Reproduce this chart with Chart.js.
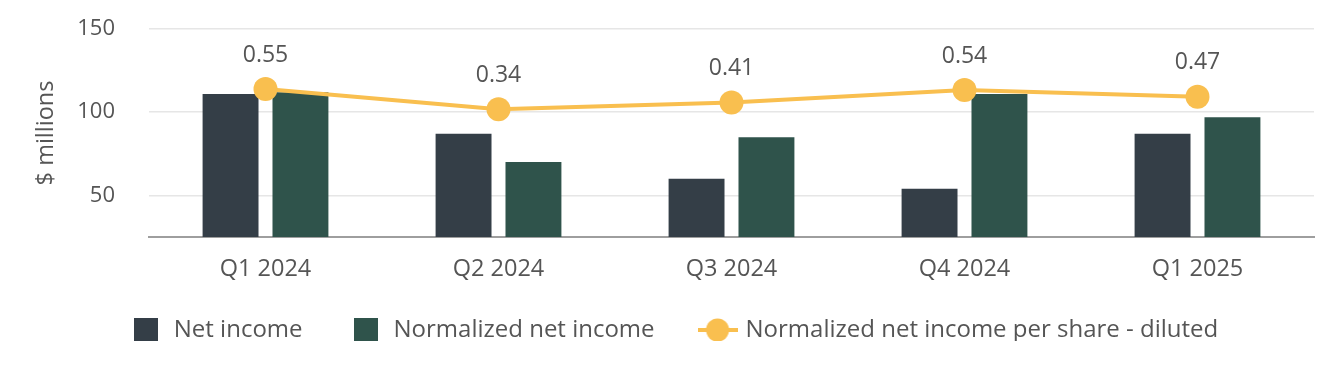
<!DOCTYPE html>
<html>
<head>
<meta charset="utf-8">
<script src="https://cdn.jsdelivr.net/npm/chart.js@4.4.1/dist/chart.umd.min.js"></script>
<style>
html, body { margin: 0; padding: 0; background: #fff; }
</style>
</head>
<body>
<canvas id="mycanvas" width="1344" height="384"></canvas>
<script>
var quarters = ['Q1 2024', 'Q2 2024', 'Q3 2024', 'Q4 2024', 'Q1 2025'];
var netIncome = [111, 87, 60, 54, 87];
var normalizedIncome = [112, 70, 85, 111, 97];
var normalizedEps = [0.55, 0.34, 0.41, 0.54, 0.47];
var yTicks = [50, 100, 150];

var darkColor = '#343e47';
var greenColor = '#2f534b';
var goldColor = '#f9bf4f';
var textColor = '#555555';

Chart.defaults.font.family = '"Open Sans", "Noto Sans", sans-serif';
Chart.defaults.color = textColor;

// legend symbols
function boxImg(color) {
	var c = document.createElement('canvas');
	c.width = 24; c.height = 24;
	var g = c.getContext('2d');
	g.fillStyle = color;
	g.fillRect(0, 0, 24, 24);
	return c;
}
function lineImg(color) {
	var c = document.createElement('canvas');
	c.width = 40; c.height = 24;
	var g = c.getContext('2d');
	g.strokeStyle = color;
	g.lineWidth = 4;
	g.beginPath(); g.moveTo(0, 12); g.lineTo(40, 12); g.stroke();
	g.fillStyle = color;
	g.beginPath(); g.arc(20, 12, 11.5, 0, Math.PI * 2); g.fill();
	return c;
}
var legendIcons = [boxImg(darkColor), boxImg(greenColor), lineImg(goldColor)];

// value labels above the eps points
var epsLabels = {
	id: 'epsLabels',
	afterDatasetsDraw: function(chart) {
		var meta = chart.getDatasetMeta(2);
		var ctx = chart.ctx;
		ctx.save();
		ctx.font = '23px "Open Sans"';
		ctx.fillStyle = textColor;
		ctx.textAlign = 'center';
		ctx.textBaseline = 'middle';
		meta.data.forEach(function(pt, i) {
			ctx.fillText(normalizedEps[i].toFixed(2), pt.x, pt.y - 34);
		});
		ctx.restore();
	}
};

// x labels hang below the (short) x axis box, so widen its clip area
var xLabelRoom = {
	id: 'xLabelRoom',
	afterLayout: function(chart) {
		chart.scales.x.bottom = chart.scales.x.top + 60;
	}
};

var chartdata = {
	labels: quarters,
	datasets: [
		{
			label: 'Net income',
			type: 'bar',
			backgroundColor: darkColor,
			data: netIncome,
			yAxisID: 'y',
			order: 2
		},
		{
			label: 'Normalized net income',
			type: 'bar',
			backgroundColor: greenColor,
			data: normalizedIncome,
			yAxisID: 'y',
			order: 2
		},
		{
			label: 'Normalized net income per share - diluted',
			type: 'line',
			borderColor: goldColor,
			backgroundColor: goldColor,
			borderWidth: 4,
			pointRadius: 12,
			pointHoverRadius: 12,
			pointBorderWidth: 0,
			pointBackgroundColor: goldColor,
			tension: 0,
			data: normalizedEps,
			yAxisID: 'y1',
			order: 1
		}
	]
};

var ctx = document.getElementById('mycanvas');
var combo = new Chart(ctx, {
	type: 'bar',
	data: chartdata,
	plugins: [epsLabels, xLabelRoom],
	options: {
		responsive: false,
		animation: false,
		datasets: {
			bar: { categoryPercentage: 0.6, barPercentage: 0.8 }
		},
		layout: { padding: { top: 29, right: 30, bottom: 43, left: 34 } },
		scales: {
			x: {
				grid: { display: false, drawTicks: false },
				border: { color: '#9e9e9e', width: 2 },
				ticks: { padding: 18, font: { size: 23.5 }, color: textColor },
				afterFit: function(scale) { scale.height = 34; }
			},
			y: {
				min: 25,
				max: 150,
				grid: { color: '#e6e6e6', lineWidth: 1.5, drawTicks: true, tickLength: 30, tickColor: 'rgba(0,0,0,0)' },
				border: { display: false },
				ticks: { padding: 4, font: { size: 22 }, color: textColor },
				afterBuildTicks: function(scale) {
					scale.ticks = yTicks.map(function(v) { return { value: v }; });
				},
				title: {
					display: true,
					text: '$ millions',
					font: { size: 23.5 },
					color: textColor,
					padding: { top: -2, bottom: 0 }
				},
				afterFit: function(scale) { scale.width = 115; }
			},
			y1: {
				display: false,
				min: -0.993,
				max: 1.177
			}
		},
		plugins: {
			tooltip: { enabled: false },
			legend: {
				position: 'bottom',
				maxHeight: 70,
				labels: {
					usePointStyle: true,
					pointStyleWidth: 32,
					boxHeight: 24,
					padding: 47,
					color: textColor,
					font: { size: 24 },
					sort: function(a, b) { return a.datasetIndex - b.datasetIndex; },
					generateLabels: function(chart) {
						var items = Chart.defaults.plugins.legend.labels.generateLabels(chart);
						items.forEach(function(it) {
							it.pointStyle = legendIcons[it.datasetIndex];
						});
						return items;
					}
				}
			}
		}
	}
});
</script>
</body>
</html>
